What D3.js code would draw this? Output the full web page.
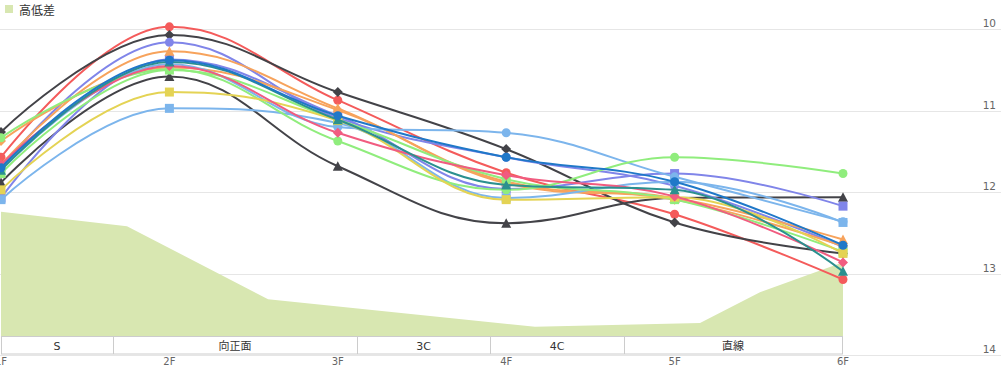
<!DOCTYPE html>
<html lang="ja">
<head>
  <meta charset="UTF-8">
  <title>高低差</title>
  <script src="https://d3js.org/d3.v7.min.js"></script>
  <style>
    body { margin: 0; background: #fff; }
    text { font-family: "DejaVu Sans", "Noto Sans CJK JP", sans-serif; }
  </style>
</head>
<body>
<script>
  // categories and ticks
  const floors = ["1F", "2F", "3F", "4F", "5F", "6F"];
  const yTicks = [10, 11, 12, 13, 14];

  // course sections shown in the band under the plot (edges in floor units)
  const sections = ["S", "向正面", "3C", "4C", "直線"];
  const sectionEdges = [0, 0.665, 2.114, 2.904, 3.70, 4.994];

  // 高低差 area (position in floor units, height)
  const elevPos = [0, 0.748, 1.586, 3.171, 4.151, 4.507, 5.0];
  const elevValues = [1.62, 1.43, 0.48, 0.12, 0.17, 0.57, 0.96];

  // lap series, one value per floor
  const seriesValues = [
    [11.57, 9.97, 10.87, 11.76, 12.27, 13.07],
    [11.26, 10.07, 10.77, 11.47, 12.37, 12.75],
    [11.88, 10.58, 11.68, 12.38, 12.07, 12.06],
    [11.70, 10.16, 11.09, 11.57, 11.92, 12.67],
    [12.07, 10.37, 11.06, 11.96, 11.77, 12.17],
    [11.66, 10.27, 10.97, 11.87, 12.07, 12.58],
    [11.37, 10.47, 10.99, 11.89, 12.09, 12.66],
    [11.73, 10.43, 11.20, 11.27, 11.81, 12.36],
    [12.09, 10.97, 11.15, 12.07, 11.87, 12.37],
    [11.33, 10.49, 11.37, 11.97, 11.57, 11.77],
    [11.77, 10.50, 11.11, 11.84, 12.09, 12.73],
    [11.97, 10.77, 11.12, 12.09, 12.06, 12.75],
    [11.66, 10.45, 11.27, 11.79, 12.05, 12.86],
    [11.73, 10.40, 11.11, 11.91, 11.97, 12.97],
    [11.70, 10.38, 11.06, 11.57, 11.87, 12.65]
  ];
  const seriesColors = ["#f45b5b", "#434348", "#434348", "#8085e9", "#8085e9", "#f7a35c", "#f7a35c",
    "#7cb5ec", "#7cb5ec", "#90ed7d", "#90ed7d", "#e4d354", "#f15c80", "#2b908f", "#1f78c8"];
  const seriesSymbols = ["circle", "diamond", "triangle", "circle", "square", "triangle", "diamond",
    "circle", "square", "circle", "square", "square", "diamond", "triangle", "circle"];

  const width = 1001;
  const height = 376;

  const svg = d3.select("body")
    .append("svg")
    .attr("width", width)
    .attr("height", height);

  // scales
  const x = d3.scaleLinear().domain([0, 5]).range([1, 843]);
  const y = d3.scaleLinear().domain([10, 14]).range([29.3, 355.3]);
  const yElev = d3.scaleLinear().domain([0, 4]).range([336, 29]);

  // gridlines + right labels
  svg.append("g")
    .selectAll("line")
    .data(yTicks)
    .join("line")
    .attr("x1", 0)
    .attr("x2", width)
    .attr("y1", d => Math.round(y(d)) + 0.5)
    .attr("y2", d => Math.round(y(d)) + 0.5)
    .attr("stroke", "#e6e6e6");

  svg.append("g")
    .selectAll("text")
    .data(yTicks)
    .join("text")
    .attr("x", 996)
    .attr("y", d => y(d) - 2)
    .attr("text-anchor", "end")
    .attr("font-size", "10.5px")
    .attr("fill", "#666")
    .text(d => d);

  // 高低差 area, straight segments
  const elev = elevPos.map((p, i) => [p, elevValues[i]]);
  svg.append("path")
    .datum(elev)
    .attr("fill", "#d8e7b1")
    .attr("d", d3.area()
      .x(d => x(d[0]))
      .y0(yElev(0))
      .y1(d => yElev(d[1])));

  // section band
  const band = svg.append("g");
  band.append("rect")
    .attr("x", x(sectionEdges[0]) + 0.5)
    .attr("y", 336.5)
    .attr("width", x(sectionEdges[sectionEdges.length - 1]) - x(sectionEdges[0]))
    .attr("height", 17.5)
    .attr("fill", "#fff")
    .attr("stroke", "#cccccc");
  band.selectAll("line")
    .data(sectionEdges.slice(1, -1))
    .join("line")
    .attr("x1", d => Math.round(x(d)) + 0.5)
    .attr("x2", d => Math.round(x(d)) + 0.5)
    .attr("y1", 336.5)
    .attr("y2", 354)
    .attr("stroke", "#cccccc");
  band.selectAll("text")
    .data(sections)
    .join("text")
    .attr("x", (d, i) => (x(sectionEdges[i]) + x(sectionEdges[i + 1])) / 2)
    .attr("y", 349.5)
    .attr("text-anchor", "middle")
    .attr("font-size", "11px")
    .attr("fill", "#333")
    .text(d => d);

  // x labels
  svg.append("g")
    .selectAll("text")
    .data(floors)
    .join("text")
    .attr("x", (d, i) => x(i))
    .attr("y", 365)
    .attr("text-anchor", "middle")
    .attr("font-size", "10px")
    .attr("fill", "#666")
    .text(d => d);

  // marker shapes
  function marker(type) {
    if (type === "square") return "M-4.5,-4.5H4.5V4.5H-4.5Z";
    if (type === "diamond") return "M0,-5L5,0L0,5L-5,0Z";
    if (type === "triangle") return "M0,-5L5,4.5H-5Z";
    return "M-4.5,0A4.5,4.5 0 1,0 4.5,0A4.5,4.5 0 1,0 -4.5,0Z";
  }

  // spline like the original: control points at 40% of the gap,
  // flattened at local extremes so the curve never overshoots
  function splinePath(pts) {
    const sm = 1.5, den = sm + 1;
    const ctrl = pts.map((p, i) => {
      const prev = pts[i - 1], next = pts[i + 1];
      if (!prev || !next) return null;
      let lx = (sm * p[0] + prev[0]) / den, ly = (sm * p[1] + prev[1]) / den;
      let rx = (sm * p[0] + next[0]) / den, ry = (sm * p[1] + next[1]) / den;
      const corr = ((ry - ly) * (rx - p[0])) / (rx - lx) + p[1] - ry;
      ly += corr;
      ry += corr;
      if (ly > prev[1] && ly > p[1]) { ly = Math.max(prev[1], p[1]); ry = 2 * p[1] - ly; }
      else if (ly < prev[1] && ly < p[1]) { ly = Math.min(prev[1], p[1]); ry = 2 * p[1] - ly; }
      if (ry > next[1] && ry > p[1]) { ry = Math.max(next[1], p[1]); ly = 2 * p[1] - ry; }
      else if (ry < next[1] && ry < p[1]) { ry = Math.min(next[1], p[1]); ly = 2 * p[1] - ry; }
      return { lx, ly, rx, ry };
    });
    let d = "M" + pts[0];
    for (let i = 1; i < pts.length; i++) {
      const a = ctrl[i - 1] ? [ctrl[i - 1].rx, ctrl[i - 1].ry] : pts[i - 1];
      const b = ctrl[i] ? [ctrl[i].lx, ctrl[i].ly] : pts[i];
      d += "C" + a + " " + b + " " + pts[i];
    }
    return d;
  }

  const lines = svg.append("g");
  seriesValues.forEach((vals, s) => {
    const g = lines.append("g");
    const pts = vals.map((v, i) => [x(i), y(v)]);
    g.append("path")
      .attr("fill", "none")
      .attr("stroke", seriesColors[s])
      .attr("stroke-width", 2)
      .attr("d", splinePath(pts));
    g.selectAll("path.m")
      .data(vals)
      .join("path")
      .attr("class", "m")
      .attr("transform", (d, i) => "translate(" + x(i) + "," + y(d) + ")")
      .attr("d", marker(seriesSymbols[s]))
      .attr("fill", seriesColors[s]);
  });

  // legend
  svg.append("rect")
    .attr("x", 5).attr("y", 5)
    .attr("width", 8).attr("height", 8)
    .attr("fill", "#d8e7b1");
  svg.append("text")
    .attr("x", 19)
    .attr("y", 15)
    .attr("font-size", "12px")
    .attr("fill", "#333")
    .text("高低差");
</script>
</body>
</html>
